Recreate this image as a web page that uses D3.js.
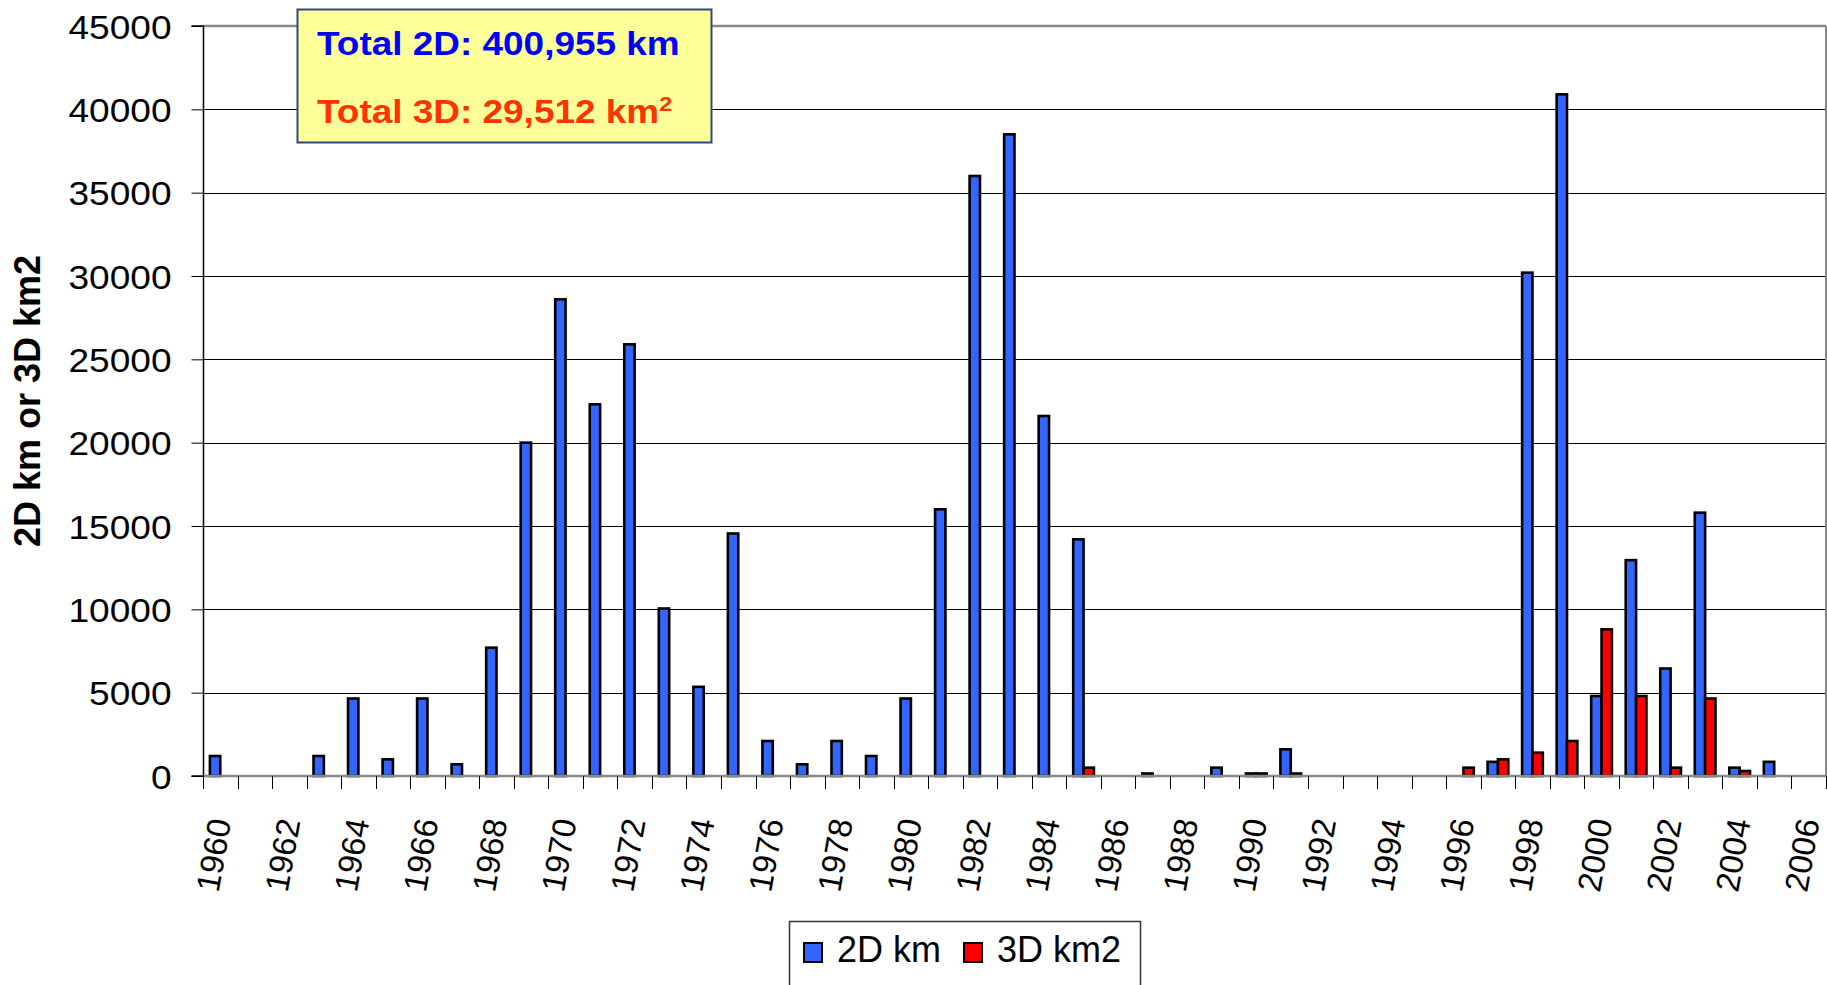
<!DOCTYPE html>
<html><head><meta charset="utf-8">
<script src="https://cdn.jsdelivr.net/npm/d3@7"></script>
<style>html,body{margin:0;padding:0;background:#fff;} svg{display:block}</style>
</head><body>
<svg id="chart" width="1827" height="985"></svg>
<script>
// ---- data ----
const years = [1960,1961,1962,1963,1964,1965,1966,1967,1968,1969,
               1970,1971,1972,1973,1974,1975,1976,1977,1978,1979,
               1980,1981,1982,1983,1984,1985,1986,1987,1988,1989,
               1990,1991,1992,1993,1994,1995,1996,1997,1998,1999,
               2000,2001,2002,2003,2004,2005,2006];
const values2D = [1200,0,0,1200,4650,1000,4650,700,7700,20000,
                  28600,22300,25900,10050,5350,14550,2100,700,2100,1200,
                  4650,16000,36000,38500,21600,14200,0,150,0,500,
                  150,1600,0,0,0,0,0,850,30200,40900,
                  4800,12950,6450,15800,500,850,0];
const values3D = [0,0,0,0,0,0,0,0,0,0,
                  0,0,0,0,0,0,0,0,0,0,
                  0,0,0,0,0,500,0,0,0,0,
                  150,150,0,0,0,0,500,1000,1400,2100,
                  8800,4800,500,4650,300,0,0];
const seriesNames = ["2D km", "3D km2"];
const seriesColors = ["#3366FF", "#FF0000"];
const yTickValues = [0,5000,10000,15000,20000,25000,30000,35000,40000,45000];
const xLabelYears = [1960,1962,1964,1966,1968,1970,1972,1974,1976,1978,1980,1982,1984,
                     1986,1988,1990,1992,1994,1996,1998,2000,2002,2004,2006];
const yTitle = "2D km or 3D km2";
const note1 = "Total 2D: 400,955 km";
const note2 = "Total 3D: 29,512 km";

// ---- layout ----
const L = 203, R = 1826, T = 26, B = 776;
const FONT = "'Liberation Sans', Arial, sans-serif";
const svg = d3.select("#chart");

const x0 = d3.scaleBand().domain(years).range([L, R]).paddingInner(0.4).paddingOuter(0.2);
const x1 = d3.scaleBand().domain(seriesNames).range([0, x0.bandwidth()]);
const y = d3.scaleLinear().domain([0, 45000]).range([B, T]);

// gridlines
svg.append("g").selectAll("line").data(yTickValues.filter(v => v > 0 && v < 45000)).join("line")
  .attr("x1", L).attr("x2", R)
  .attr("y1", d => Math.round(y(d)) + 0.5).attr("y2", d => Math.round(y(d)) + 0.5)
  .attr("stroke", "#000").attr("stroke-width", 1);

// plot border top/right (gray)
svg.append("line").attr("x1", L).attr("x2", R).attr("y1", T).attr("y2", T)
  .attr("stroke", "#888").attr("stroke-width", 2.5);
svg.append("line").attr("x1", R).attr("x2", R).attr("y1", T).attr("y2", B)
  .attr("stroke", "#888").attr("stroke-width", 2);

// bars
const rows = years.map((yr, i) => ({year: yr, vals: [values2D[i], values3D[i]]}));
const g = svg.append("g").selectAll("g").data(rows).join("g")
  .attr("transform", d => `translate(${x0(d.year)},0)`);
g.selectAll("rect")
  .data(d => d.vals.map((v, k) => ({name: seriesNames[k], v, k})).filter(e => e.v > 0))
  .join("rect")
  .attr("x", d => x1(d.name))
  .attr("width", x1.bandwidth())
  .attr("y", d => y(d.v))
  .attr("height", d => B - y(d.v))
  .attr("fill", d => seriesColors[d.k])
  .attr("stroke", "#000").attr("stroke-width", 2.6);

// x axis line (gray) and category boundary ticks
svg.append("line").attr("x1", L).attr("x2", R).attr("y1", B).attr("y2", B)
  .attr("stroke", "#888").attr("stroke-width", 2.5);
const half = (x0.step() - x0.bandwidth()) / 2;
const bounds = years.map(yr => x0(yr) - half).concat([x0(years[years.length-1]) + x0.bandwidth() + half]);
svg.append("g").selectAll("line").data(bounds).join("line")
  .attr("x1", d => Math.round(d) + 0.5).attr("x2", d => Math.round(d) + 0.5)
  .attr("y1", B).attr("y2", B + 13)
  .attr("stroke", "#000").attr("stroke-width", 1);

// x labels
svg.append("g").selectAll("text").data(xLabelYears).join("text")
  .attr("transform", d => `translate(${x0(d) + x0.bandwidth()/2 + 11},821) rotate(-80)`)
  .attr("text-anchor", "end")
  .attr("font-family", FONT).attr("font-size", 33).attr("fill", "#000")
  .text(d => d);

// y axis
const yAxis = d3.axisLeft(y).tickValues(yTickValues).tickSize(12).tickPadding(20).tickFormat(d3.format("d"));
const ya = svg.append("g").attr("transform", `translate(${L + 0.5},0)`).call(yAxis);
ya.select(".domain").attr("stroke", "#000").attr("stroke-width", 1.5).attr("d", `M-12,${T}H0V${B}H-12`);
ya.selectAll(".tick line").attr("stroke", "#000").attr("stroke-width", 1);
ya.selectAll(".tick text")
  .attr("font-family", FONT).attr("font-size", 34).attr("fill", "#000")
  .attr("x", -32 / 1.09).attr("dy", "0.36em")
  .attr("transform", "scale(1.09,1)");

// y title
svg.append("text")
  .attr("transform", `translate(40,401) rotate(-90)`)
  .attr("text-anchor", "middle")
  .attr("font-family", FONT).attr("font-size", 36).attr("font-weight", "bold").attr("fill", "#000")
  .text(yTitle);

// annotation box
svg.append("rect").attr("x", 297.5).attr("y", 9.5).attr("width", 414).attr("height", 133)
  .attr("fill", "#FFFF99").attr("stroke", "#2E4A7A").attr("stroke-width", 2);
const ng = svg.append("g").attr("transform", "translate(317,0) scale(1.12,1)");
ng.append("text").attr("x", 0).attr("y", 55)
  .attr("font-family", FONT).attr("font-size", 33).attr("font-weight", "bold").attr("fill", "#0000FF")
  .text(note1);
const t2 = ng.append("text").attr("x", 0).attr("y", 123)
  .attr("font-family", FONT).attr("font-size", 33).attr("font-weight", "bold").attr("fill", "#FF3300");
t2.append("tspan").text(note2);
t2.append("tspan").attr("font-size", 21).attr("dy", -12).text("2");

// legend
svg.append("rect").attr("x", 789.5).attr("y", 921.5).attr("width", 351).attr("height", 90)
  .attr("fill", "#fff").attr("stroke", "#333").attr("stroke-width", 1.5);
const lx = [804, 964], tx = [837, 997];
seriesNames.forEach((n, i) => {
  svg.append("rect").attr("x", lx[i]).attr("y", 943).attr("width", 18).attr("height", 19)
    .attr("fill", seriesColors[i]).attr("stroke", "#000").attr("stroke-width", 2);
  svg.append("text").attr("x", tx[i]).attr("y", 962)
    .attr("font-family", FONT).attr("font-size", 36).attr("fill", "#000").text(n);
});
</script>
</body></html>
